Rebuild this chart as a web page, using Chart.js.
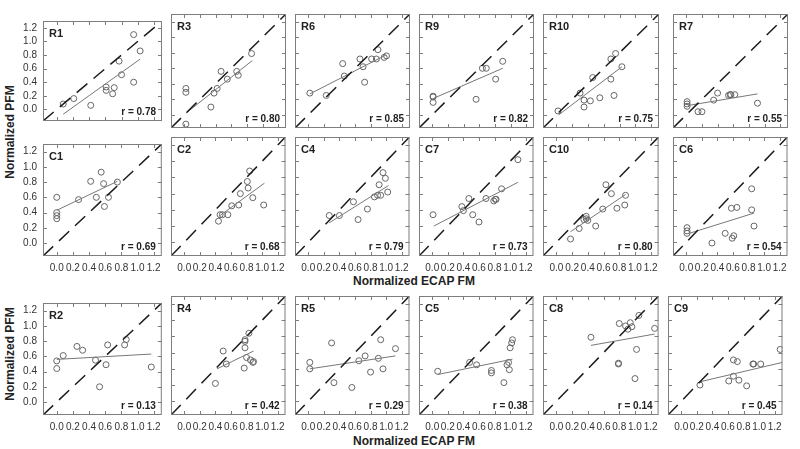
<!DOCTYPE html>
<html>
<head>
<meta charset="utf-8">
<script src="https://cdn.jsdelivr.net/npm/chart.js@4.4.1/dist/chart.umd.min.js"></script>
<style>
  body { margin: 0; background: #fff; }
  #fig { position: relative; width: 800px; height: 449px; overflow: hidden; font-family: "Liberation Sans", Arial, sans-serif; }
  #fig canvas { position: absolute; }
  .ytitle, .xtitle { position: absolute; font-weight: bold; font-size: 12px; color: #222; white-space: nowrap; }
  .ytitle { left: 10px; transform: translate(-50%, -50%) rotate(-90deg); }
  .xtitle { left: 414px; transform: translate(-50%, -50%); }
</style>
</head>
<body>
<div id="fig">
  <div class="ytitle" style="top:132px">Normalized PFM</div>
  <div class="ytitle" style="top:354px">Normalized PFM</div>
  <div class="xtitle" style="top:281px">Normalized ECAP FM</div>
  <div class="xtitle" style="top:441px">Normalized ECAP FM</div>
</div>
<script>
// panels, left to right, top to bottom
const panelNames = ['R1', 'R3', 'R6', 'R9', 'R10', 'R7',
                    'C1', 'C2', 'C4', 'C7', 'C10', 'C6',
                    'R2', 'R4', 'R5', 'C5', 'C8', 'C9'];
const rValues = ['0.78', '0.80', '0.85', '0.82', '0.75', '0.55',
                 '0.69', '0.68', '0.79', '0.73', '0.80', '0.54',
                 '0.13', '0.42', '0.29', '0.38', '0.14', '0.45'];

// normalized ECAP FM (x) for each panel
const ecapFM = [
  [0.08, 0.21, 0.42, 0.61, 0.61, 0.71, 0.69, 0.77, 0.80, 0.95, 0.95, 1.03],
  [0.02, 0.02, 0.02, 0.34, 0.38, 0.42, 0.47, 0.55, 0.67, 0.69, 0.86],
  [0.02, 0.23, 0.44, 0.46, 0.66, 0.70, 0.72, 0.81, 0.87, 0.89, 0.97, 1.00],
  [0.01, 0.01, 0.01, 0.56, 0.64, 0.69, 0.81, 0.90],
  [0.02, 0.30, 0.35, 0.35, 0.43, 0.46, 0.55, 0.69, 0.69, 0.75, 0.73, 0.83],
  [0.01, 0.01, 0.01, 0.15, 0.20, 0.35, 0.40, 0.54, 0.56, 0.57, 0.62, 0.91],
  [0.00, 0.00, 0.00, 0.00, 0.27, 0.42, 0.49, 0.55, 0.58, 0.59, 0.64, 0.75],
  [0.44, 0.46, 0.49, 0.56, 0.61, 0.70, 0.72, 0.81, 0.82, 0.84, 0.88, 1.02],
  [0.27, 0.40, 0.58, 0.64, 0.76, 0.85, 0.89, 0.93, 0.91, 0.96, 0.99, 1.02],
  [0.01, 0.38, 0.40, 0.47, 0.52, 0.60, 0.69, 0.79, 0.81, 0.82, 0.89, 1.10],
  [0.18, 0.29, 0.35, 0.38, 0.38, 0.40, 0.50, 0.59, 0.63, 0.70, 0.77, 0.87, 0.88],
  [0.01, 0.01, 0.01, 0.33, 0.50, 0.58, 0.59, 0.61, 0.65, 0.84, 0.84, 0.87],
  [0.00, 0.00, 0.08, 0.25, 0.32, 0.48, 0.53, 0.61, 0.63, 0.84, 0.86, 1.17],
  [0.40, 0.50, 0.54, 0.77, 0.78, 0.78, 0.78, 0.80, 0.83, 0.85, 0.88, 0.89],
  [0.02, 0.02, 0.30, 0.33, 0.56, 0.65, 0.73, 0.80, 0.90, 0.93, 0.96, 1.12],
  [0.07, 0.48, 0.57, 0.76, 0.76, 0.92, 0.96, 0.98, 0.99, 1.00, 1.02, 1.03],
  [0.44, 0.79, 0.79, 0.80, 0.88, 0.91, 0.94, 0.96, 1.00, 1.02, 1.05, 1.25],
  [0.24, 0.61, 0.67, 0.67, 0.72, 0.74, 0.84, 0.92, 0.93, 1.02, 1.27]
];

// normalized PFM (y) for each panel
const pfm = [
  [0.08, 0.16, 0.06, 0.33, 0.28, 0.32, 0.23, 0.71, 0.51, 0.40, 1.10, 0.86],
  [0.34, 0.29, -0.12, 0.10, 0.28, 0.34, 0.56, 0.46, 0.56, 0.51, 0.79],
  [0.28, 0.25, 0.66, 0.50, 0.72, 0.62, 0.42, 0.72, 0.72, 0.84, 0.74, 0.76],
  [0.24, 0.23, 0.16, 0.20, 0.60, 0.60, 0.46, 0.69],
  [0.05, 0.28, 0.10, 0.19, 0.18, 0.48, 0.22, 0.46, 0.72, 0.79, 0.25, 0.62],
  [0.17, 0.14, 0.11, 0.04, 0.04, 0.19, 0.28, 0.25, 0.26, 0.26, 0.26, 0.15],
  [0.60, 0.40, 0.36, 0.32, 0.57, 0.81, 0.60, 0.93, 0.78, 0.48, 0.60, 0.80],
  [0.26, 0.34, 0.34, 0.34, 0.45, 0.46, 0.60, 0.75, 0.67, 0.88, 0.55, 0.46],
  [0.33, 0.33, 0.50, 0.28, 0.41, 0.56, 0.58, 0.58, 0.71, 0.86, 0.79, 0.62],
  [0.34, 0.44, 0.39, 0.54, 0.34, 0.25, 0.54, 0.51, 0.53, 0.53, 0.66, 1.02],
  [0.04, 0.17, 0.28, 0.32, 0.29, 0.27, 0.20, 0.41, 0.71, 0.60, 0.42, 0.46, 0.58],
  [0.18, 0.14, 0.11, -0.01, 0.11, 0.42, 0.05, 0.08, 0.43, 0.66, 0.40, 0.20],
  [0.54, 0.44, 0.61, 0.73, 0.68, 0.55, 0.20, 0.49, 0.75, 0.75, 0.82, 0.46],
  [0.22, 0.62, 0.46, 0.41, 0.66, 0.74, 0.76, 0.54, 0.84, 0.51, 0.48, 0.49],
  [0.48, 0.40, 0.72, 0.23, 0.17, 0.50, 0.56, 0.36, 0.53, 0.76, 0.40, 0.65],
  [0.37, 0.48, 0.45, 0.38, 0.35, 0.23, 0.45, 0.48, 0.39, 0.66, 0.72, 0.76],
  [0.79, 0.47, 0.46, 0.96, 0.93, 0.89, 0.97, 0.92, 0.28, 0.64, 1.06, 0.90],
  [0.20, 0.25, 0.51, 0.31, 0.49, 0.26, 0.19, 0.46, 0.46, 0.46, 0.64]
];

// regression line end points
const fitX = [
  [0.08, 1.03], [0.02, 0.87], [0.02, 0.99], [0.01, 0.90], [0.03, 0.83], [0.02, 0.91],
  [0.00, 0.75], [0.46, 1.03], [0.27, 1.03], [0.02, 1.10], [0.18, 0.88], [0.04, 0.87],
  [0.00, 1.17], [0.42, 0.89], [0.02, 1.12], [0.07, 1.03], [0.44, 1.25], [0.24, 1.30]
];
const fitY = [
  [-0.07, 0.74], [0.02, 0.70], [0.27, 0.77], [0.21, 0.60], [0.00, 0.62], [0.12, 0.27],
  [0.43, 0.81], [0.33, 0.73], [0.24, 0.70], [0.20, 0.74], [0.13, 0.59], [0.11, 0.36],
  [0.56, 0.63], [0.40, 0.62], [0.40, 0.56], [0.33, 0.52], [0.69, 0.83], [0.24, 0.48]
];

const tickValues = [0, 0.2, 0.4, 0.6, 0.8, 1.0, 1.2];
const tickLabels = ['0.0', '0.2', '0.4', '0.6', '0.8', '1.0', '1.2'];
const axisMin = -0.17, axisMax = 1.3;

Chart.defaults.font.family = '"Liberation Sans", Arial, sans-serif';

// border, inner tick marks and panel texts
const framePlugin = {
  id: 'frame',
  afterDraw(chart, args, opts) {
    const { ctx, chartArea: a } = chart;
    const sx = chart.scales.x, sy = chart.scales.y;
    ctx.save();
    ctx.strokeStyle = '#7d7d7d';
    ctx.lineWidth = 1;
    ctx.strokeRect(a.left + 0.5, a.top + 0.5, a.width - 1, a.height - 1);
    ctx.beginPath();
    tickValues.forEach(v => {
      const px = Math.round(sx.getPixelForValue(v)) + 0.5;
      const py = Math.round(sy.getPixelForValue(v)) + 0.5;
      ctx.moveTo(px, a.top); ctx.lineTo(px, a.top + 4);
      ctx.moveTo(px, a.bottom); ctx.lineTo(px, a.bottom - 4);
      ctx.moveTo(a.left, py); ctx.lineTo(a.left + 4, py);
      ctx.moveTo(a.right, py); ctx.lineTo(a.right - 4, py);
    });
    ctx.stroke();
    ctx.fillStyle = '#222';
    ctx.font = 'bold 11px "Liberation Sans", Arial, sans-serif';
    ctx.textAlign = 'left';
    ctx.textBaseline = 'alphabetic';
    ctx.fillText(opts.name, a.left + 6, a.top + 16);
    ctx.font = 'bold 10px "Liberation Sans", Arial, sans-serif';
    ctx.textAlign = 'right';
    ctx.fillText('r = ' + opts.r, a.right - 6, a.bottom - 6);
    ctx.restore();
  }
};

function axisOpts(axis, size) {
  return {
    type: 'linear',
    min: axisMin,
    max: axisMax,
    display: size > 0,
    grid: { display: false, drawTicks: false },
    border: { display: false },
    afterBuildTicks: s => { s.ticks = tickValues.map(v => ({ value: v })); },
    afterFit: s => { if (axis === 'x') s.height = size; else s.width = size; },
    ticks: {
      autoSkip: false,
      maxRotation: 0,
      padding: axis === 'x' ? 6 : 6,
      color: '#333',
      font: { size: 10 },
      callback: (v, k) => tickLabels[k]
    }
  };
}

const fig = document.getElementById('fig');
const colEdges = [43, 166, 290, 414, 538, 663];
const lastCol = [[668, 792], [668, 792], [663, 787]];
const rowTop = [9, 132, 291];

panelNames.forEach((name, i) => {
  const row = Math.floor(i / 6), col = i % 6;
  const left = col < 5 ? colEdges[col] : lastCol[row][0];
  const right = col < 5 ? colEdges[col + 1] : lastCol[row][1];
  const padL = col === 0 ? 42 : 0;
  const padB = row > 0 ? 24 : 0;
  const cv = document.createElement('canvas');
  cv.width = right - left + 1 + padL;
  cv.height = 124 + padB;
  cv.style.left = (left - padL) + 'px';
  cv.style.top = rowTop[row] + 'px';
  fig.appendChild(cv);

  new Chart(cv, {
    type: 'scatter',
    data: {
      datasets: [
        {
          data: [{ x: axisMin, y: axisMin }, { x: axisMax, y: axisMax }],
          showLine: true,
          borderColor: '#1c1c1c',
          borderWidth: 1.5,
          borderDash: [14, 8],
          pointRadius: 0
        },
        {
          data: fitX[i].map((x, k) => ({ x, y: fitY[i][k] })),
          showLine: true,
          borderColor: '#777',
          borderWidth: 1,
          pointRadius: 0
        },
        {
          data: ecapFM[i].map((x, k) => ({ x, y: pfm[i][k] })),
          pointRadius: 3,
          pointBorderWidth: 1,
          pointBorderColor: '#666',
          pointBackgroundColor: 'rgba(0,0,0,0)'
        }
      ]
    },
    options: {
      responsive: false,
      animation: false,
      devicePixelRatio: 1,
      layout: { padding: 0 },
      plugins: {
        legend: { display: false },
        tooltip: { enabled: false },
        frame: { name: name, r: rValues[i] }
      },
      scales: {
        x: axisOpts('x', padB),
        y: axisOpts('y', padL)
      }
    },
    plugins: [framePlugin]
  });
});
</script>
</body>
</html>
